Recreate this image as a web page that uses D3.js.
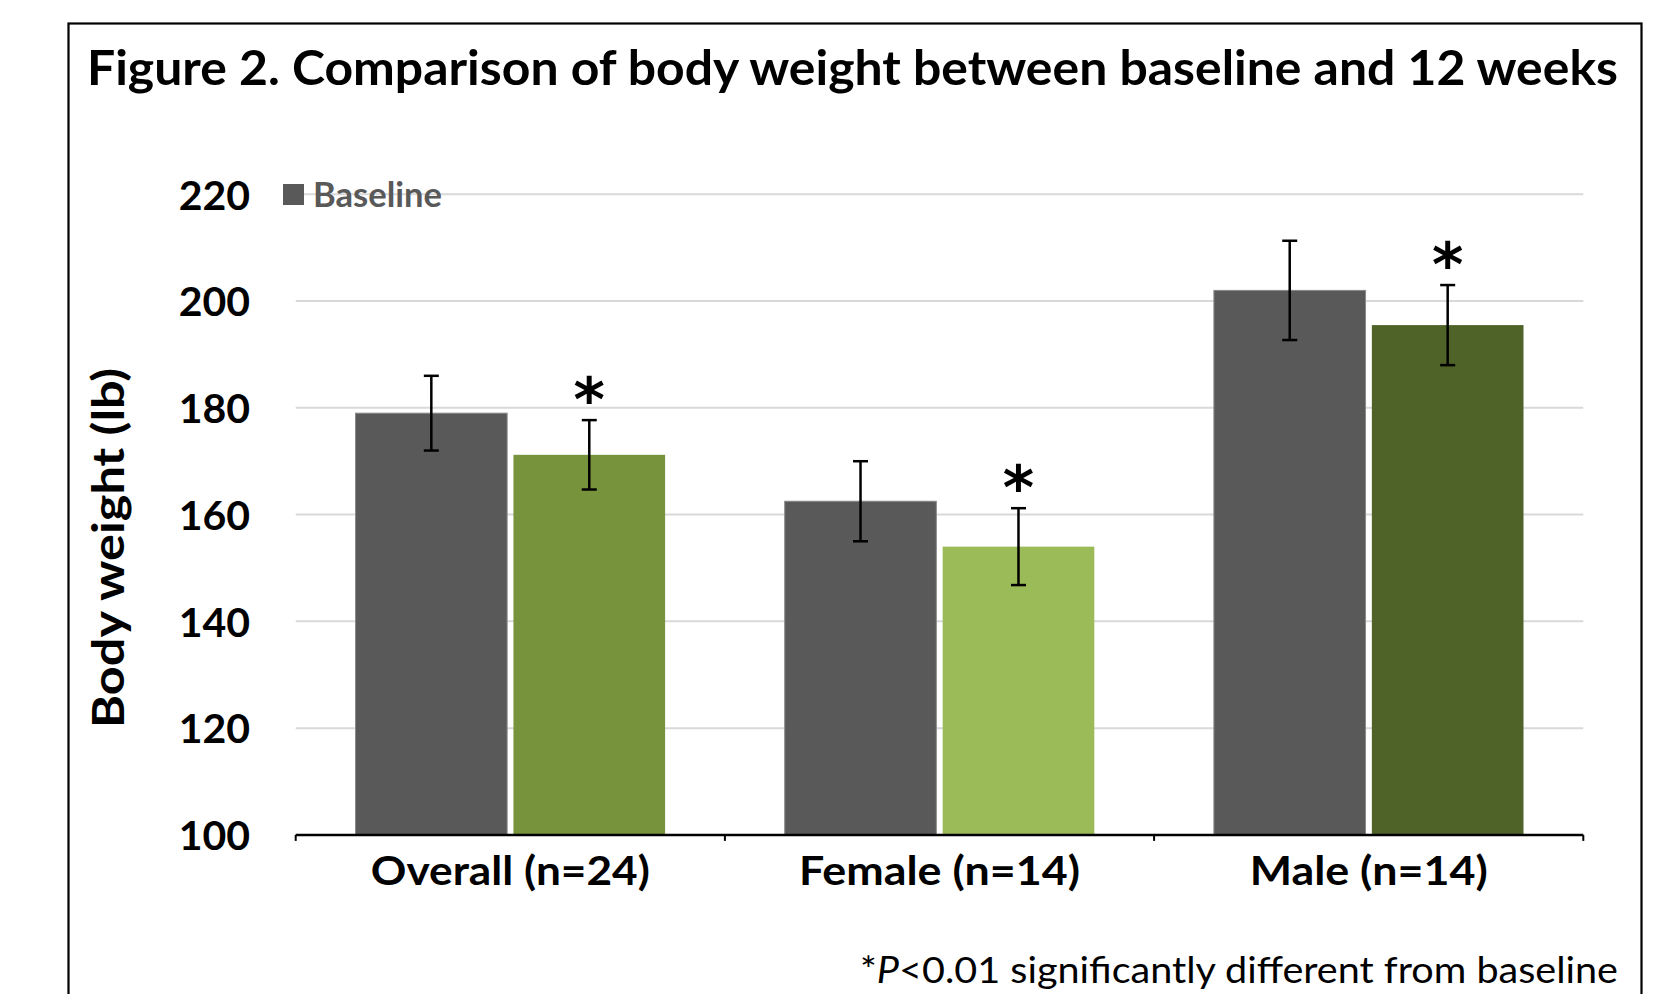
<!DOCTYPE html>
<html>
<head>
<meta charset="utf-8">
<script src="https://cdn.jsdelivr.net/npm/d3@7"></script>
<style>
  html, body { margin: 0; padding: 0; background: #fff; }
  svg { display: block; }
  text { font-family: Lato, "Open Sans", sans-serif; }
  text.star { font-family: "DejaVu Sans", sans-serif; }
</style>
</head>
<body>
<svg id="chart" width="1674" height="994"></svg>
<script>
// ---- data ----
const categories = ["Overall (n=24)", "Female (n=14)", "Male (n=14)"];
const seriesNames = ["Baseline", "12 weeks"];
const baseline = [179.0, 162.5, 202.0];
const week12 = [171.2, 154.0, 195.5];
const baselineErr = [7.0, 7.5, 9.3];
const week12Err = [6.5, 7.2, 7.5];
const significant = [true, true, true];
const yTicks = [100, 120, 140, 160, 180, 200, 220];
const titleText = "Figure 2. Comparison of body weight between baseline and 12 weeks";
const yTitle = "Body weight (lb)";
const legendLabel = "Baseline";

// ---- styles ----
const baselineColor = "#595959";
const week12Colors = ["#77933C", "#9BBB59", "#4F6228"];

const svg = d3.select("#chart");

// frame
svg.append("rect")
  .attr("x", 68.5).attr("y", 23.5)
  .attr("width", 1573).attr("height", 1000)
  .attr("fill", "none").attr("stroke", "#000").attr("stroke-width", 2.2);

// title
svg.append("text")
  .attr("x", 87).attr("y", 85)
  .attr("font-size", 47).attr("font-weight", 700)
  .attr("textLength", 1531).attr("lengthAdjust", "spacingAndGlyphs")
  .text(titleText);

// scales
const plotLeft = 295.7, plotRight = 1583.3;
const y = d3.scaleLinear().domain([100, 220]).range([834.9, 194.3]);
const x0 = d3.scaleBand().domain(categories).range([plotLeft, plotRight]).padding(0);
const bw = x0.bandwidth();
const outer = 59.8;
const x1 = d3.scaleBand().domain(seriesNames).range([outer, bw - outer]).paddingInner(0.04);

// gridlines
svg.append("g")
  .selectAll("line")
  .data(yTicks.filter(t => t !== 100))
  .join("line")
  .attr("x1", plotLeft).attr("x2", plotRight)
  .attr("y1", d => y(d)).attr("y2", d => y(d))
  .attr("stroke", "#D9D9D9").attr("stroke-width", 2);

// y axis labels
const yAxis = d3.axisLeft(y).tickValues(yTicks).tickSize(0).tickPadding(0);
const gy = svg.append("g").attr("transform", `translate(250,0)`).call(yAxis);
gy.select(".domain").remove();
gy.selectAll("text")
  .attr("font-size", 41).attr("font-weight", 700).attr("fill", "#000")
  .attr("dy", "0.36em");

// bars
const rows = categories.map((c, i) => ({
  cat: c, i,
  vals: [
    { s: "Baseline", v: baseline[i], e: baselineErr[i], color: baselineColor },
    { s: "12 weeks", v: week12[i], e: week12Err[i], color: week12Colors[i] }
  ]
}));

const groups = svg.append("g").selectAll("g")
  .data(rows).join("g")
  .attr("transform", d => `translate(${x0(d.cat)},0)`);

groups.selectAll("rect")
  .data(d => d.vals).join("rect")
  .attr("x", d => x1(d.s))
  .attr("width", x1.bandwidth())
  .attr("y", d => y(d.v))
  .attr("height", d => y(100) - y(d.v))
  .attr("fill", d => d.color)
  .attr("stroke", d => d.s === "Baseline" ? "#8a8a8a" : "none")
  .attr("stroke-width", 1);

// error bars
const capW = 15;
const eb = groups.selectAll("g.eb")
  .data(d => d.vals).join("g").attr("class", "eb")
  .attr("transform", d => `translate(${x1(d.s) + x1.bandwidth() / 2},0)`);
eb.append("line")
  .attr("x1", 0).attr("x2", 0)
  .attr("y1", d => y(d.v + d.e)).attr("y2", d => y(d.v - d.e))
  .attr("stroke", "#000").attr("stroke-width", 2.5);
eb.append("line")
  .attr("x1", -capW / 2).attr("x2", capW / 2)
  .attr("y1", d => y(d.v + d.e)).attr("y2", d => y(d.v + d.e))
  .attr("stroke", "#000").attr("stroke-width", 2.5);
eb.append("line")
  .attr("x1", -capW / 2).attr("x2", capW / 2)
  .attr("y1", d => y(d.v - d.e)).attr("y2", d => y(d.v - d.e))
  .attr("stroke", "#000").attr("stroke-width", 2.5);

// significance asterisks
groups.filter(d => significant[d.i])
  .append("text")
  .attr("class", "star")
  .attr("x", x1("12 weeks") + x1.bandwidth() / 2)
  .attr("y", d => y(week12[d.i] + week12Err[d.i]) + 1)
  .attr("text-anchor", "middle")
  .attr("font-size", 60).attr("font-weight", 700)
  .text("*");

// x axis
const xAxis = d3.axisBottom(x0).tickSize(0).tickPadding(0);
const gx = svg.append("g").attr("transform", `translate(0,${y(100)})`).call(xAxis);
gx.select(".domain").remove();
gx.append("line")
  .attr("x1", plotLeft).attr("x2", plotRight)
  .attr("y1", 0).attr("y2", 0)
  .attr("stroke", "#000").attr("stroke-width", 2.5);
gx.selectAll("line.bt")
  .data(d3.range(categories.length + 1)).join("line").attr("class", "bt")
  .attr("x1", i => plotLeft + i * bw).attr("x2", i => plotLeft + i * bw)
  .attr("y1", 0).attr("y2", 6)
  .attr("stroke", "#000").attr("stroke-width", 2);
const labelWidths = [279, 281, 238];
gx.selectAll(".tick text")
  .attr("font-size", 41).attr("font-weight", 700).attr("fill", "#000")
  .attr("dy", 0).attr("y", 50)
  .attr("textLength", (d, i) => labelWidths[i]).attr("lengthAdjust", "spacingAndGlyphs");

// y title
svg.append("text")
  .attr("transform", `translate(124,548) rotate(-90)`)
  .attr("text-anchor", "middle")
  .attr("font-size", 44).attr("font-weight", 700)
  .attr("textLength", 360).attr("lengthAdjust", "spacingAndGlyphs")
  .text(yTitle);

// legend
const lg = svg.append("g");
lg.append("rect")
  .attr("x", 283).attr("y", 184).attr("width", 21).attr("height", 21)
  .attr("fill", baselineColor);
lg.append("text")
  .attr("x", 313).attr("y", 207)
  .attr("font-size", 34).attr("font-weight", 700).attr("fill", baselineColor)
  .attr("textLength", 129).attr("lengthAdjust", "spacingAndGlyphs")
  .text(legendLabel);

// footnote
const fn = svg.append("text")
  .attr("x", 1618).attr("y", 983)
  .attr("text-anchor", "end")
  .attr("font-size", 37).attr("font-weight", 400)
  .attr("textLength", 758).attr("lengthAdjust", "spacingAndGlyphs");
fn.append("tspan").text("*");
fn.append("tspan").attr("font-style", "italic").text("P");
fn.append("tspan").text("<0.01 significantly different from baseline");
</script>
</body>
</html>
